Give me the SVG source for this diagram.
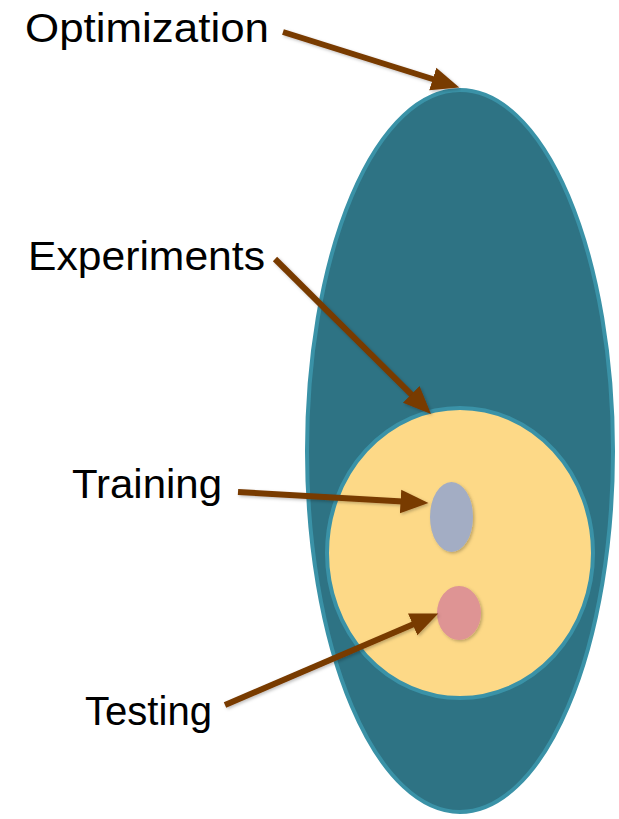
<svg xmlns="http://www.w3.org/2000/svg" width="619" height="819" viewBox="0 0 619 819">
  <defs>
    <style>
      .label { font-family: "Liberation Sans", Arial, sans-serif; font-size: 41px; fill: #000000; }
      .arrow { stroke: #783a06; stroke-width: 6; fill: none; marker-end: url(#head); }
      .shadow { filter: url(#soft); }
    </style>
    <marker id="head" markerUnits="userSpaceOnUse" markerWidth="30" markerHeight="26" viewBox="0 -12 28 24" refX="6" refY="0" orient="auto">
      <path d="M0,-11 L26,0 L0,11 Z" fill="#783a06"/>
    </marker>
    <filter id="soft" x="-10%" y="-10%" width="120%" height="120%">
      <feDropShadow dx="1.5" dy="1.5" stdDeviation="1.5" flood-color="#000000" flood-opacity="0.25"/>
    </filter>
  </defs>

  <rect x="0" y="0" width="619" height="819" fill="#ffffff"/>

  <g id="optimization-node">
    <ellipse cx="460" cy="451" rx="153" ry="361" fill="#2e7384" stroke="#3a92a7" stroke-width="4"/>
  </g>
  <g id="experiments-node">
    <ellipse cx="460" cy="553" rx="133" ry="145" fill="#fdd987" stroke="#3a92a7" stroke-width="4"/>
  </g>
  <g id="training-node">
    <ellipse class="shadow" cx="451.5" cy="517" rx="21.5" ry="35" fill="#a3adc4"/>
  </g>
  <g id="testing-node">
    <ellipse class="shadow" cx="459" cy="613" rx="22" ry="27" fill="#de9494"/>
  </g>

  <g id="labels">
    <text class="label" x="25" y="42" textLength="244" lengthAdjust="spacingAndGlyphs">Optimization</text>
    <text class="label" x="28" y="270" textLength="237" lengthAdjust="spacingAndGlyphs">Experiments</text>
    <text class="label" x="72" y="498" textLength="150" lengthAdjust="spacingAndGlyphs">Training</text>
    <text class="label" x="85" y="725" textLength="127" lengthAdjust="spacingAndGlyphs">Testing</text>
  </g>

  <g id="connectors" class="shadow">
    <line class="arrow" x1="283" y1="32" x2="438.9" y2="81.0"/>
    <line class="arrow" x1="275" y1="259" x2="415.8" y2="398.9"/>
    <line class="arrow" x1="238" y1="492" x2="407.0" y2="501.8"/>
    <line class="arrow" x1="225" y1="705" x2="418.6" y2="621.9"/>
  </g>
</svg>
